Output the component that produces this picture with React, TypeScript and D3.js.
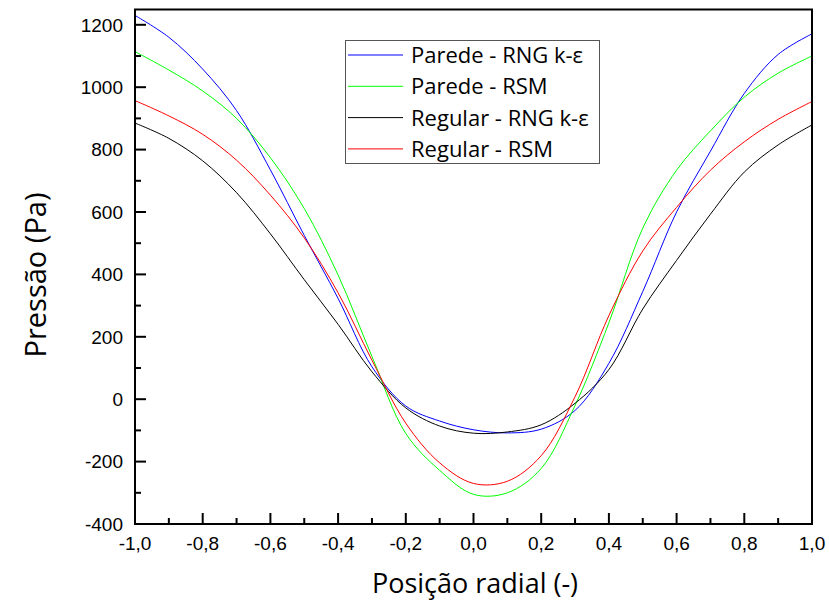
import React from "react";
import * as d3 from "d3";

const xs = [-1.0, -0.9, -0.8, -0.7, -0.6, -0.5, -0.4, -0.3, -0.2, -0.1, 0.0, 0.1, 0.2, 0.3, 0.4, 0.5, 0.6, 0.7, 0.8, 0.9, 1.0];
const paredeRNG = [1230, 1160, 1058, 925, 735, 525, 323, 104, -22, -70, -98, -108, -96, -36, 115, 345, 600, 795, 980, 1105, 1171];
const paredeRSM = [1114, 1055, 988, 900, 774, 611, 398, 137, -110, -228, -305, -300, -222, -20, 245, 548, 734, 860, 968, 1045, 1100];
const regularRNG = [885, 836, 764, 662, 530, 383, 240, 88, -28, -86, -109, -105, -82, -13, 95, 289, 445, 593, 728, 815, 879];
const regularRSM = [957, 908, 849, 766, 654, 517, 341, 125, -77, -204, -270, -263, -181, 8, 268, 475, 615, 734, 825, 897, 954];

const seriesNames = ["Parede - RNG k-\u03b5", "Parede - RSM", "Regular - RNG k-\u03b5", "Regular - RSM"];
const seriesColors = ["#0000ff", "#00ff00", "#000000", "#ff0000"];
const seriesValues = [paredeRNG, paredeRSM, regularRNG, regularRSM];

const xTicks = [-1.0, -0.8, -0.6, -0.4, -0.2, 0.0, 0.2, 0.4, 0.6, 0.8, 1.0];
const yTicks = [-400, -200, 0, 200, 400, 600, 800, 1000, 1200];
const xMinor = [-0.9, -0.7, -0.5, -0.3, -0.1, 0.1, 0.3, 0.5, 0.7, 0.9];
const yMinor = [-300, -100, 100, 300, 500, 700, 900, 1100];

export default function App() {
  const W = 829, H = 602;
  const left = 135, right = 812, top = 9.5, bottom = 524;
  const x = d3.scaleLinear().domain([-1, 1]).range([left, right]);
  const y = d3.scaleLinear().domain([-400, 1249]).range([bottom, top]);
  const line = d3
    .line<[number, number]>()
    .x((d) => x(d[0]))
    .y((d) => y(d[1]))
    .curve(d3.curveCatmullRom.alpha(0.5));
  const fmt = (v: number) => v.toFixed(1).replace(".", ",");
  const tickFont = "'Liberation Sans', Arial, sans-serif";
  const titleFont = "'Open Sans', 'Noto Sans', sans-serif";

  return (
    <svg width={W} height={H} style={{ position: "absolute", left: 0, top: 0, background: "#fff" }}>
      <defs>
        <clipPath id="plot">
          <rect x={left} y={top} width={right - left} height={bottom - top} />
        </clipPath>
      </defs>
      <g clipPath="url(#plot)">
        {seriesValues.map((vals, i) => (
          <path
            key={i}
            d={line(xs.map((xv, j) => [xv, vals[j]] as [number, number])) || ""}
            fill="none"
            stroke={seriesColors[i]}
            strokeWidth={1}
          />
        ))}
      </g>
      {/* frame */}
      <rect x={left} y={top} width={right - left} height={bottom - top} fill="none" stroke="#000" strokeWidth={2} />
      {/* y ticks */}
      {yTicks.map((t) => (
        <g key={"y" + t}>
          <line x1={left} x2={left + 11} y1={y(t)} y2={y(t)} stroke="#000" strokeWidth={2} />
          <text x={left - 12} y={y(t)} dy="0.36em" textAnchor="end" fontFamily={tickFont} fontSize={19}>
            {t}
          </text>
        </g>
      ))}
      {yMinor.map((t) => (
        <line key={"ym" + t} x1={left} x2={left + 6} y1={y(t)} y2={y(t)} stroke="#000" strokeWidth={2} />
      ))}
      {/* x ticks */}
      {xTicks.map((t) => (
        <g key={"x" + t}>
          <line x1={x(t)} x2={x(t)} y1={bottom} y2={bottom - 11} stroke="#000" strokeWidth={2} />
          <text x={x(t)} y={550} textAnchor="middle" fontFamily={tickFont} fontSize={19}>
            {fmt(t)}
          </text>
        </g>
      ))}
      {xMinor.map((t) => (
        <line key={"xm" + t} x1={x(t)} x2={x(t)} y1={bottom} y2={bottom - 6} stroke="#000" strokeWidth={2} />
      ))}
      {/* axis titles */}
      <text
        transform={`translate(46, 275) rotate(-90)`}
        textAnchor="middle"
        fontFamily={titleFont}
        fontSize={29}
      >
        Pressão (Pa)
      </text>
      <text x={475} y={593} textAnchor="middle" fontFamily={titleFont} fontSize={27}>
        Posição radial (-)
      </text>
      {/* legend */}
      <rect x={345.5} y={40.5} width={254} height={123} fill="#fff" stroke="#555" strokeWidth={1} />
      {seriesNames.map((name, i) => {
        const ry = 55 + i * 31.3;
        return (
          <g key={"lg" + i}>
            <line x1={348} x2={403} y1={ry} y2={ry} stroke={seriesColors[i]} strokeWidth={1} />
            <text x={411} y={ry} dy="0.36em" fontFamily={titleFont} fontSize={22}>
              {name}
            </text>
          </g>
        );
      })}
    </svg>
  );
}
